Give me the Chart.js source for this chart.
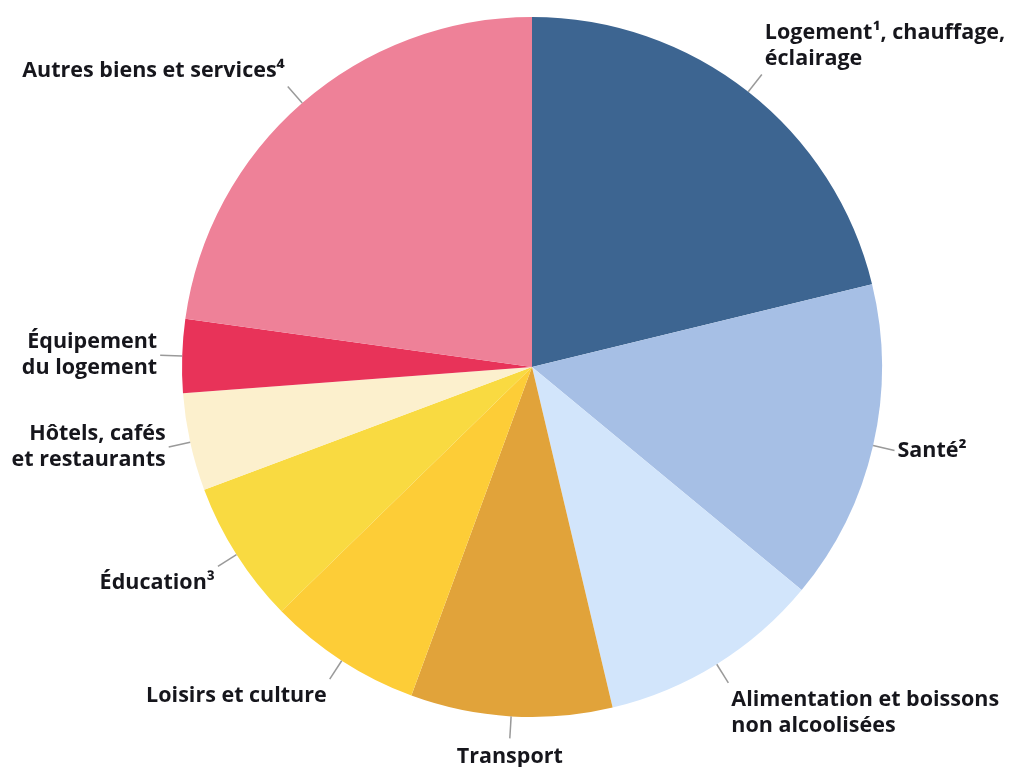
<!DOCTYPE html>
<html>
<head>
<meta charset="utf-8">
<script src="https://cdn.jsdelivr.net/npm/chart.js@4"></script>
<style>
  html, body { margin: 0; padding: 0; background: #fff; }
  #wrap { width: 1012px; height: 767px; }
</style>
</head>
<body>
<div id="wrap"><canvas id="pieChart" width="1012" height="767"></canvas></div>
<script>
// Catégories (dans l'ordre horaire depuis midi)
const categories = [
    ['Logement\u00b9, chauffage,', '\u00e9clairage'],
    ['Sant\u00e9\u00b2'],
    ['Alimentation et boissons', 'non alcoolis\u00e9es'],
    ['Transport'],
    ['Loisirs et culture'],
    ['\u00c9ducation\u00b3'],
    ['H\u00f4tels, caf\u00e9s', 'et restaurants'],
    ['\u00c9quipement', 'du logement'],
    ['Autres biens et services\u2074']
];
// Parts en %
const shares = [21.2, 14.8, 10.3, 9.3, 7.1, 6.6, 4.5, 3.4, 22.8];
const colors = ['#3d6591', '#a6bfe5', '#d2e5fb', '#e1a33a', '#fdcd37', '#f9da41', '#fcf0cd', '#e83359', '#ee8198'];

// Étiquettes extérieures avec traits de rappel
const outerLabels = {
    id: 'outerLabels',
    afterDatasetsDraw(chart) {
        const ctx = chart.ctx;
        const meta = chart.getDatasetMeta(0);
        ctx.save();
        ctx.font = 'bold 21.5px "Open Sans"';
        ctx.fillStyle = '#16161c';
        ctx.textBaseline = 'middle';
        const lineH = 26;
        meta.data.forEach((arc, i) => {
            const mid = (arc.startAngle + arc.endAngle) / 2;
            const cx = arc.x, cy = arc.y, r = arc.outerRadius;
            const s = Math.cos(mid), c = -Math.sin(mid); // s: vers la droite, c: vers le haut
            const x0 = cx + r * Math.cos(mid), y0 = cy + r * Math.sin(mid);
            const ex = cx + (r + 22) * Math.cos(mid), ey = cy + (r + 22) * Math.sin(mid);
            ctx.strokeStyle = '#9a9a9a';
            ctx.lineWidth = 1.5;
            ctx.beginPath();
            ctx.moveTo(x0, y0);
            ctx.lineTo(ex, ey);
            ctx.stroke();

            const lines = categories[i];
            let tx, align;
            if (s > 0.3) { align = 'left'; tx = ex + 3; }
            else if (s < -0.3) { align = 'right'; tx = ex - 3; }
            else { align = 'center'; tx = ex; }
            ctx.textAlign = align;
            let firstY;
            if (align === 'center') firstY = ey + 19;
            else if (c > 0.5) firstY = ey - 16 - (lines.length - 1) * lineH;
            else if (c < -0.5) firstY = ey + 17;
            else firstY = ey - (lines.length - 1) * lineH / 2;
            lines.forEach((t, k) => ctx.fillText(t, tx, firstY + k * lineH));
        });
        ctx.restore();
    }
};

document.addEventListener('DOMContentLoaded', () => {
    const ctx = document.getElementById('pieChart').getContext('2d');
    new Chart(ctx, {
        type: 'pie',
        data: {
            labels: categories.map(l => l.join(' ')),
            datasets: [{
                data: shares,
                backgroundColor: colors,
                borderWidth: 0
            }]
        },
        options: {
            responsive: false,
            animation: false,
            layout: {
                padding: { top: 17, bottom: 50, left: 182, right: 130 }
            },
            plugins: {
                legend: { display: false },
                tooltip: { enabled: false }
            }
        },
        plugins: [outerLabels]
    });
});
</script>
</body>
</html>
